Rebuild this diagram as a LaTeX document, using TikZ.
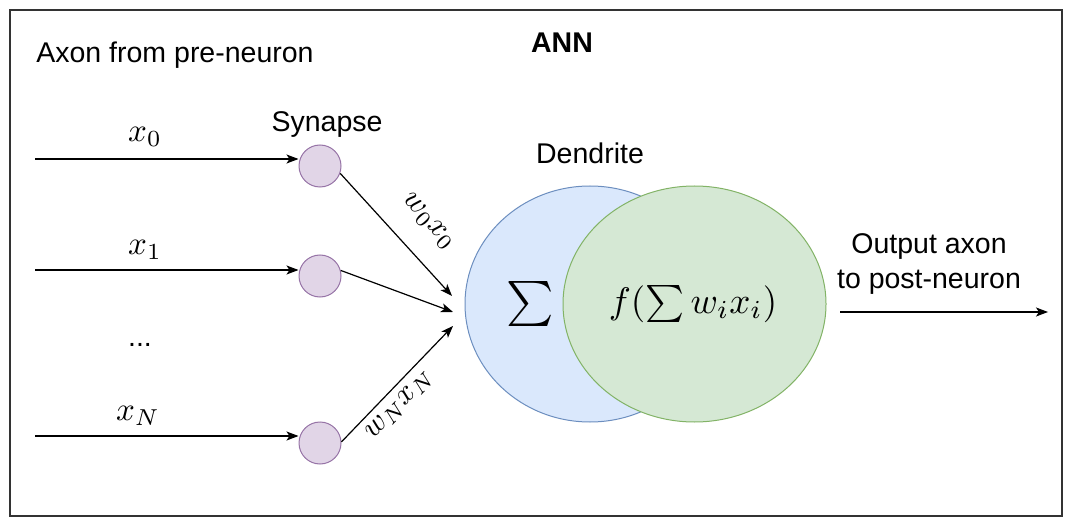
\documentclass[tikz,border=0pt]{standalone}
\usepackage{fontspec}
\setmainfont{Liberation Sans}
\usetikzlibrary{arrows.meta,shapes.geometric}
\definecolor{bluefill}{HTML}{DAE8FC}
\definecolor{blueline}{HTML}{6C8EBF}
\definecolor{greenfill}{HTML}{D5E8D4}
\definecolor{greenline}{HTML}{82B366}
\definecolor{purplefill}{HTML}{E1D5E7}
\definecolor{purpleline}{HTML}{9673A6}
\begin{document}
\begin{tikzpicture}[x=1pt,y=-1pt,
  txt/.style={font=\fontsize{28.5}{35}\selectfont, inner sep=0pt},
  mlbl/.style={inner sep=0pt},
  arr/.style={line width=1.2pt, -{Stealth[length=12pt,width=9pt,inset=3pt]}},
  syn/.style={circle, draw=purpleline, fill=purplefill, line width=1pt, minimum size=42pt, inner sep=0pt},
  frame/.style={draw=black!80, line width=1.2pt}]
\useasboundingbox (0,0) rectangle (1070,521);
\draw[frame] (10,10) rectangle (1062,516);

\node[txt] (title) at (562,43) {\bfseries ANN};
\node[txt] (axon) at (175,55) {Axon from pre-neuron};
\node[txt] (synlbl) at (327,125) {Synapse};
\node[txt] (dendlbl) at (590,153) {Dendrite};
\node[txt] (dots) at (140,345) {...};
\node[txt, align=center] (outlbl) at (929,264) {Output axon\\to post-neuron};

% ellipses
\node[ellipse, draw=blueline, fill=bluefill, line width=1pt, minimum width=250pt, minimum height=236pt, inner sep=0pt] (dend) at (590,304) {};
\node[ellipse, draw=greenline, fill=greenfill, line width=1pt, minimum width=263pt, minimum height=236pt, inner sep=0pt] (soma) at (694.5,304) {};
\node[mlbl] (sumlbl) at (530,304) {\scalebox{4.5}{$\sum$}};
\node[mlbl] (flbl) at (693,304) {\scalebox{3.7}{$f(\sum w_ix_i)$}};

% synapses
\node[syn] (c0) at (320,166) {};
\node[syn] (c1) at (320,276) {};
\node[syn] (c2) at (320,443) {};

\coordinate (s0) at (35,159);
\coordinate (s1) at (35,270);
\coordinate (s2) at (35,436);
\draw[arr] (s0) -- (s0 -| c0.west);
\draw[arr] (s1) -- (s1 -| c1.west);
\draw[arr] (s2) -- (s2 -| c2.west);
\node[mlbl] (x0) at (145,137) {\scalebox{3.3}{$x_0$}};
\node[mlbl] (x1) at (145,250) {\scalebox{3.3}{$x_1$}};
\node[mlbl] (xN) at (138,416) {\scalebox{3.3}{$x_N$}};

\coordinate (t0) at (452,296);
\coordinate (t1) at (453,312);
\coordinate (t2) at (453,326);
\draw[arr] (c0.-20) -- (t0);
\draw[arr] (c1.15) -- (t1);
\draw[arr] (c2.3) -- (t2);
\node[mlbl, rotate=-48] (w0) at (428,222) {\scalebox{3.1}{$w_0x_0$}};
\node[mlbl, rotate=46] (wN) at (400,405) {\scalebox{3.1}{$w_Nx_N$}};

\coordinate (o1) at (840,312);
\coordinate (o2) at (1048,312);
\draw[arr] (o1) -- (o2);
\end{tikzpicture}
\end{document}
